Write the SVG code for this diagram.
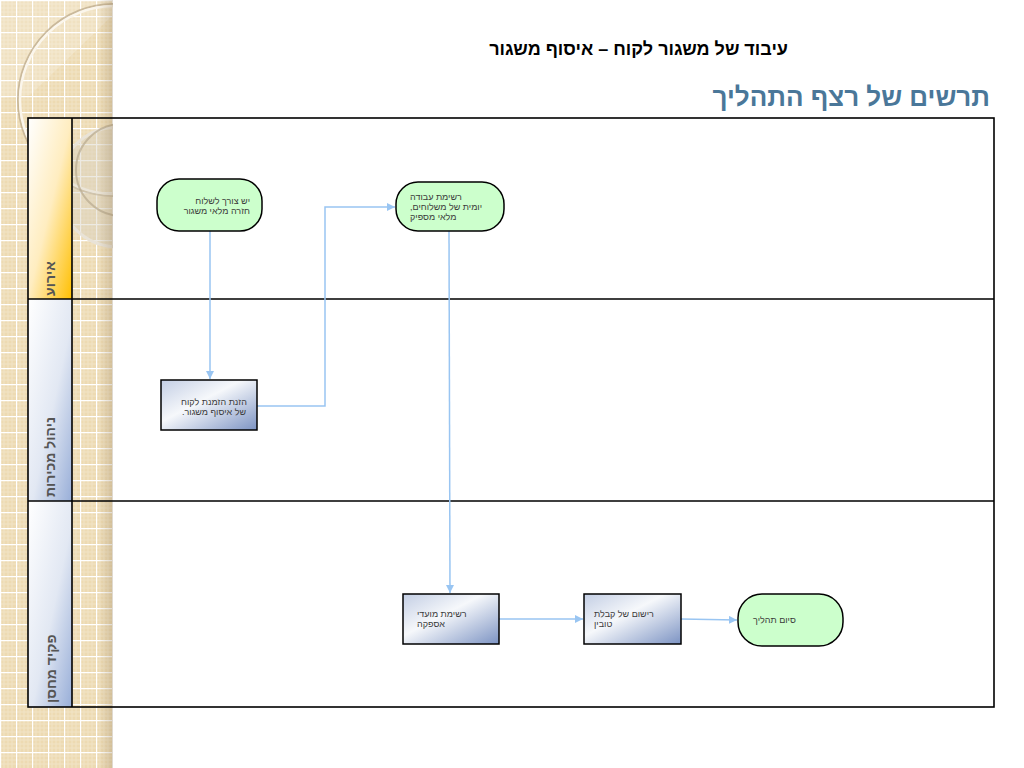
<svg xmlns="http://www.w3.org/2000/svg" width="1024" height="768" viewBox="0 0 1024 768">
<style>
.title{font-family:"Liberation Sans",Arial,sans-serif;font-weight:bold;direction:rtl}
.lane{font-family:"Liberation Sans",Arial,sans-serif;font-weight:bold;font-size:14px;fill:#555555;direction:rtl}
.nt{font-family:"Liberation Sans",Arial,sans-serif;font-size:9px;fill:#3a3a3a;direction:rtl}
.term{fill:#CCFFCC;stroke:#000;stroke-width:1.5}
.proc{fill:url(#procGrad);stroke:#000;stroke-width:1.5}
.frame{fill:none;stroke:#000;stroke-width:1.6}
.conn{fill:none;stroke:#99C5F2;stroke-width:1.5}
</style>
<defs>
<pattern id="grid" width="16" height="16" patternUnits="userSpaceOnUse">
<rect width="16" height="16" fill="#EDDAB2"/>
<path d="M4 0V16M8 0V16M12 0V16M0 4H16M0 8H16M0 12H16" stroke="#F2E4C6" stroke-width="1"/>
<path d="M0 0H16M0 0V16" stroke="#FFFFFF" stroke-width="2.4"/>
</pattern>
<linearGradient id="shadow" x1="0" y1="0" x2="1" y2="0">
<stop offset="0" stop-color="#8a7350" stop-opacity="0"/>
<stop offset="1" stop-color="#8a7350" stop-opacity="0.28"/>
</linearGradient>
<linearGradient id="orangeGrad" x1="0" y1="0" x2="1" y2="1">
<stop offset="0" stop-color="#FFFFFF"/>
<stop offset="0.5" stop-color="#FFEDC0"/>
<stop offset="1" stop-color="#FFBF00"/>
</linearGradient>
<linearGradient id="blueGrad" x1="0" y1="0" x2="1" y2="1">
<stop offset="0" stop-color="#FFFFFF"/>
<stop offset="0.55" stop-color="#E2E8F3"/>
<stop offset="1" stop-color="#98AED8"/>
</linearGradient>
<linearGradient id="procGrad" x1="0" y1="0" x2="1" y2="1">
<stop offset="0" stop-color="#C3CEE4"/>
<stop offset="0.42" stop-color="#F6F8FB"/>
<stop offset="1" stop-color="#7C93C3"/>
</linearGradient>
<clipPath id="stripClip"><rect x="0" y="0" width="113" height="768"/></clipPath>
<marker id="arrow" markerWidth="9" markerHeight="8" refX="8" refY="4" orient="auto" markerUnits="userSpaceOnUse">
<path d="M0,0 L8,4 L0,8 z" fill="#99C5F2"/>
</marker>
</defs>

<!-- background -->
<rect width="1024" height="768" fill="#FFFFFF"/>
<g id="background-strip" clip-path="url(#stripClip)">
<rect x="0" y="0" width="113" height="768" fill="url(#grid)"/>
<polygon points="0,0 113,0 113,15 30,95 0,98" fill="#FFFFFF" opacity="0.2"/>
<circle cx="114" cy="100" r="96" fill="none" stroke="#B9A787" stroke-width="2" opacity="0.7"/>
<circle cx="114" cy="100" r="94" fill="none" stroke="#FBF6EC" stroke-width="2.5"/>
<circle cx="118" cy="187" r="60" fill="#D8D0C2" opacity="0.45"/>
<circle cx="118" cy="187" r="60" fill="none" stroke="#E9E3D7" stroke-width="3"/>
<circle cx="122" cy="170" r="46" fill="none" stroke="#B8A98F" stroke-width="2" opacity="0.7"/>
<rect x="98" y="0" width="15" height="768" fill="url(#shadow)"/>
</g>

<!-- titles -->
<text class="title" x="788" y="55" font-size="18" fill="#000000" text-anchor="start">עיבוד של משגור לקוח – איסוף משגור</text>
<text class="title" x="990" y="106" font-size="26" fill="#4A7799" text-anchor="start">תרשים של רצף התהליך</text>

<!-- swimlane frame -->
<g id="lanes">
<rect x="113" y="118" width="881" height="589" fill="#FFFFFF"/>
<g id="lane-event">
<rect x="28" y="118" width="44" height="181" fill="url(#orangeGrad)"/>
<text class="lane" transform="translate(55,296) rotate(-90)" text-anchor="end">אירוע</text>
</g>
<g id="lane-sales">
<rect x="28" y="299" width="44" height="202" fill="url(#blueGrad)"/>
<text class="lane" transform="translate(55,497) rotate(-90)" text-anchor="end">ניהול מכירות</text>
</g>
<g id="lane-warehouse">
<rect x="28" y="501" width="44" height="206" fill="url(#blueGrad)"/>
<text class="lane" transform="translate(56,703) rotate(-90)" text-anchor="end">פקיד מחסן</text>
</g>
<rect class="frame" x="28" y="118" width="966" height="589"/>
<path class="frame" d="M28,299 H994 M28,501 H994 M72,118 V707"/>
</g>

<!-- connectors -->
<g id="connectors">
<path class="conn" d="M210,231 V379" marker-end="url(#arrow)"/>
<path class="conn" d="M257,406 H325 V207 H395" marker-end="url(#arrow)"/>
<path class="conn" d="M449,231 L450,593" marker-end="url(#arrow)"/>
<path class="conn" d="M499,619 H583" marker-end="url(#arrow)"/>
<path class="conn" d="M681,619 L737,620" marker-end="url(#arrow)"/>
</g>

<!-- nodes -->
<g id="node-start">
<rect class="term" x="157" y="179" width="105" height="52" rx="22" ry="22"/>
<text class="nt" x="250" y="204" text-anchor="start">יש צורך לשלוח</text>
<text class="nt" x="250" y="214" text-anchor="start">חזרה מלאי משגור</text>
</g>
<g id="node-worklist">
<rect class="term" x="396" y="182" width="108" height="49" rx="22" ry="22"/>
<text class="nt" x="410" y="200" text-anchor="end">רשימת עבודה</text>
<text class="nt" x="410" y="210" text-anchor="end">יומית של משלוחים,</text>
<text class="nt" x="410" y="220" text-anchor="end">מלאי מספיק</text>
</g>
<g id="node-order">
<rect class="proc" x="161" y="380" width="96" height="50"/>
<text class="nt" x="247" y="405" text-anchor="start">הזנת הזמנת לקוח</text>
<text class="nt" x="246" y="415" text-anchor="start">של איסוף משגור.</text>
</g>
<g id="node-dates">
<rect class="proc" x="403" y="594" width="96" height="50"/>
<text class="nt" x="417" y="617" text-anchor="end">רשימת מועדי</text>
<text class="nt" x="417" y="627" text-anchor="end">אספקה</text>
</g>
<g id="node-receipt">
<rect class="proc" x="584" y="594" width="97" height="50"/>
<text class="nt" x="594" y="617" text-anchor="end">רישום של קבלת</text>
<text class="nt" x="594" y="627" text-anchor="end">טובין</text>
</g>
<g id="node-end">
<rect class="term" x="738" y="594" width="105" height="52" rx="24" ry="24"/>
<text class="nt" x="753" y="623" text-anchor="end">סיום תהליך</text>
</g>
</svg>
